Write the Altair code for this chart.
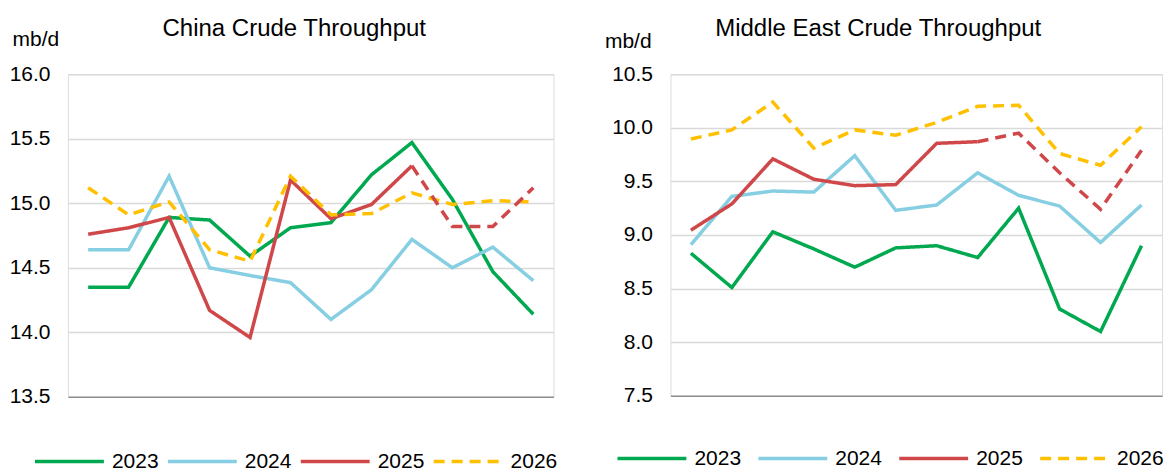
import altair as alt
import pandas as pd

months = ["Jan", "Feb", "Mar", "Apr", "May", "Jun", "Jul", "Aug", "Sep", "Oct", "Nov", "Dec"]
years = ["2023", "2024", "2025", "2026"]
colors = ["#00A84F", "#86CFE2", "#D0474A", "#FFC000"]

china_2023 = [14.35, 14.35, 14.89, 14.87, 14.59, 14.81, 14.85, 15.22, 15.47, 15.03, 14.47, 14.14]
china_2024 = [14.64, 14.64, 15.21, 14.50, 14.44, 14.385, 14.10, 14.33, 14.72, 14.50, 14.66, 14.40]
china_2025 = [14.76, 14.81, 14.89, 14.17, 13.96, 15.18, 14.88, 14.99, 15.29, 14.82, 14.82, 15.12]
china_2026 = [15.12, 14.91, 15.01, 14.64, 14.55, 15.21, 14.91, 14.92, 15.08, 14.99, 15.02, 15.01]
china_2025_actual_until = "Sep"

me_2023 = [8.83, 8.51, 9.03, 8.87, 8.70, 8.88, 8.90, 8.79, 9.25, 8.31, 8.10, 8.90]
me_2024 = [8.91, 9.36, 9.41, 9.40, 9.74, 9.23, 9.28, 9.58, 9.37, 9.27, 8.93, 9.28]
me_2025 = [9.045, 9.29, 9.71, 9.52, 9.46, 9.47, 9.855, 9.87, 9.95, 9.58, 9.24, 9.79]
me_2026 = [9.895, 9.98, 10.24, 9.81, 9.98, 9.93, 10.05, 10.20, 10.21, 9.76, 9.65, 10.01]
me_2025_actual_until = "Aug"

china_ticks = [13.5, 14.0, 14.5, 15.0, 15.5, 16.0]
me_ticks = [7.5, 8.0, 8.5, 9.0, 9.5, 10.0, 10.5]
month_edges = [0.5, 12.5]
labelled_months = [1, 3, 5, 7, 9, 11]

FONT = "Liberation Sans"
DASH = [11, 7]
GRID = "#D9D9D9"
AXIS_GREY = "#8C8C8C"


def build_frames(series, cut):
    main_rows, fc_rows = [], []
    cut_i = months.index(cut)
    for yr, vals in zip(years, series):
        for i, (m, v) in enumerate(zip(months, vals)):
            row = {"m": i + 1, "month": m, "year": yr, "value": v}
            if yr == "2025":
                if i <= cut_i:
                    main_rows.append(row)
                if i >= cut_i:
                    fc_rows.append(dict(row))
            else:
                main_rows.append(row)
    return pd.DataFrame(main_rows), pd.DataFrame(fc_rows)


def panel(title, series, cut, ticks, width, height, title_dx, title_offset,
          unit_x, unit_y, legend_x, legend_y, col_pad):
    main_df, fc_df = build_frames(series, cut)
    xscale = alt.Scale(domain=month_edges, nice=False, zero=False)
    label_axis = alt.Axis(title=None, orient="bottom", values=labelled_months,
                          labelExpr="%s[datum.value - 1]" % str(months), labelAngle=0,
                          labelFlush=False, labelOverlap=False, labelFontSize=21, labelPadding=13,
                          labelColor="#000000", labelFont=FONT, ticks=False, domain=False,
                          grid=False)
    y = alt.Y(
        "value:Q",
        scale=alt.Scale(domain=[ticks[0], ticks[-1]], nice=False, zero=False),
        axis=alt.Axis(values=ticks, format=".1f", title="mb/d", titleAngle=0,
                      titleX=unit_x, titleY=unit_y, titleAlign="left", titleBaseline="alphabetic",
                      titleFontSize=21, titleFontWeight="normal", titleFont=FONT, titleColor="#000000",
                      ticks=False, domain=False, grid=True,
                      gridColor=alt.condition("datum.value == %s" % ticks[0],
                                              alt.value(AXIS_GREY), alt.value(GRID)),
                      gridWidth=1.5, labelPadding=18, labelFontSize=21, labelFont=FONT,
                      labelColor="#000000"),
    )
    legend = alt.Legend(orient="none", legendX=legend_x, legendY=legend_y, direction="horizontal",
                        title=None, symbolType="M-5,0H5", symbolSize=190, symbolStrokeWidth=3.5,
                        labelFontSize=21, labelFont=FONT, labelColor="#000000", columnPadding=col_pad,
                        labelOffset=32)
    lines = alt.Chart(main_df).mark_line(strokeWidth=3.5).encode(
        x=alt.X("m:Q", scale=xscale, axis=None), y=y,
        color=alt.Color("year:N", scale=alt.Scale(domain=years, range=colors), legend=legend),
        strokeDash=alt.StrokeDash("year:N",
                                  scale=alt.Scale(domain=years, range=[[1, 0], [1, 0], [1, 0], DASH]),
                                  legend=legend),
    )
    fc = alt.Chart(fc_df).mark_line(strokeWidth=3.5, color=colors[2], strokeDash=DASH).encode(
        x=alt.X("m:Q", scale=xscale, axis=label_axis), y=y)
    return alt.layer(lines, fc).properties(
        width=width, height=height,
        title=alt.TitleParams(title, fontSize=24, fontWeight="normal", font=FONT, color="#000000",
                              anchor="middle", frame="group", dx=title_dx, offset=title_offset),
    )


left = panel("China Crude Throughput", [china_2023, china_2024, china_2025, china_2026],
             china_2025_actual_until, china_ticks, 486, 323, -16.5, -12.6, -56, -29, -9, 377, 2)
right = panel("Middle East Crude Throughput", [me_2023, me_2024, me_2025, me_2026],
              me_2025_actual_until, me_ticks, 492, 322, -38, -11.2, -66, -27, -29, 374, 10)

chart = alt.hconcat(left, right, spacing=45).resolve_scale(
    y="independent", color="independent", strokeDash="independent"
).resolve_legend(color="independent", strokeDash="independent").properties(
    padding={"left": 0, "top": 8, "right": 0, "bottom": 0}
).configure_view(stroke=None).configure_axisX(grid=False).configure(font=FONT, background="white")

chart.save("out.html", embed_options={"renderer": "svg", "actions": False})
